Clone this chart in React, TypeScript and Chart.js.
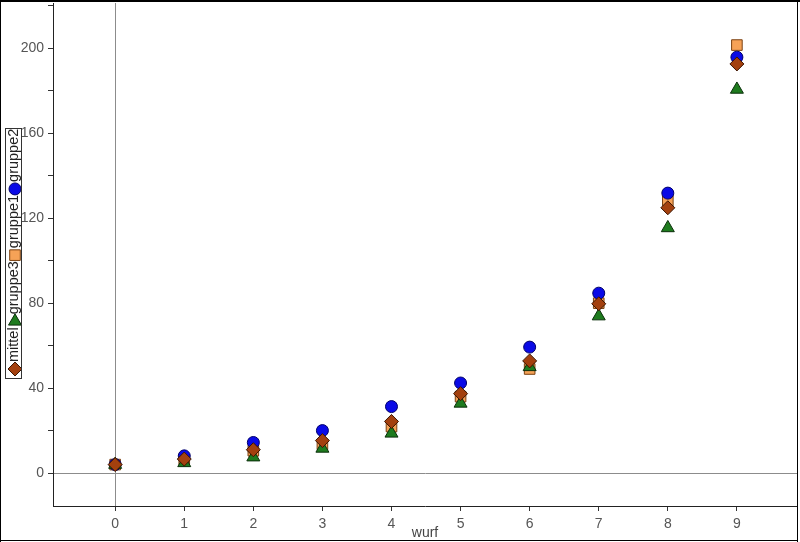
import React, { useEffect, useRef } from 'react';
import { Chart, registerables } from 'chart.js';

Chart.register(...registerables);

const wurf = [0, 1, 2, 3, 4, 5, 6, 7, 8, 9];
const gruppe2 = [4, 8.1, 14.4, 20, 31.3, 42.4, 59.3, 84.7, 131.8, 195.8];
const gruppe1 = [4, 6.4, 10.5, 13.5, 21.9, 36, 49, 80, 128.3, 201.5];
const gruppe3 = [4, 4.8, 7.5, 11.6, 18.7, 32.8, 50, 73.9, 115.4, 180.6];
const mittel = [4, 6.6, 11, 15.3, 24.3, 37.4, 52.8, 79.7, 124.9, 192.6];

const xTickValues = [0, 1, 2, 3, 4, 5, 6, 7, 8, 9];
const xTickLabels = ['0', '1', '2', '3', '4', '5', '6', '7', '8', '9'];
const yTickValues = [0, 20, 40, 60, 80, 100, 120, 140, 160, 180, 200, 220];
const yTickLabels = ['0', '', '40', '', '80', '', '120', '', '160', '', '200', ''];

const FONT = "'Liberation Sans', Arial, sans-serif";

type Series = {
  label: string;
  values: number[];
  style: 'circle' | 'rect' | 'triangle' | 'rectRot';
  radius: number;
  fill: string;
  stroke: string;
};

// legend order, bottom to top
const series: Series[] = [
  { label: 'mittel', values: mittel, style: 'rectRot', radius: 7, fill: '#a3400e', stroke: '#3a1400' },
  { label: 'gruppe3', values: gruppe3, style: 'triangle', radius: 7.5, fill: '#1e7b1e', stroke: '#0b2f0b' },
  { label: 'gruppe1', values: gruppe1, style: 'rect', radius: 7.5, fill: '#f6a257', stroke: '#7a4010' },
  { label: 'gruppe2', values: gruppe2, style: 'circle', radius: 6, fill: '#0a0ae6', stroke: '#00006a' },
];

// draw order: first in list ends up on top
const drawOrder = ['mittel', 'gruppe3', 'gruppe2', 'gruppe1'];

function drawMarker(ctx: CanvasRenderingContext2D, s: Series, x: number, y: number) {
  const r = s.radius;
  ctx.beginPath();
  if (s.style === 'circle') {
    ctx.arc(x, y, r, 0, Math.PI * 2);
  } else if (s.style === 'rect') {
    const h = r * Math.SQRT1_2;
    ctx.rect(x - h, y - h, 2 * h, 2 * h);
  } else if (s.style === 'triangle') {
    ctx.moveTo(x, y - r);
    ctx.lineTo(x + r * Math.sin((2 * Math.PI) / 3), y - r * Math.cos((2 * Math.PI) / 3));
    ctx.lineTo(x + r * Math.sin((4 * Math.PI) / 3), y - r * Math.cos((4 * Math.PI) / 3));
    ctx.closePath();
  } else {
    ctx.moveTo(x - r, y);
    ctx.lineTo(x, y - r);
    ctx.lineTo(x + r, y);
    ctx.lineTo(x, y + r);
    ctx.closePath();
  }
  ctx.fillStyle = s.fill;
  ctx.fill();
  ctx.lineWidth = 1;
  ctx.strokeStyle = s.stroke;
  ctx.stroke();
}

const framePlugin = {
  id: 'frameAndLegend',
  afterDraw(chart: any) {
    const ctx: CanvasRenderingContext2D = chart.ctx;
    ctx.save();
    // outer frame
    ctx.fillStyle = '#000';
    ctx.fillRect(0, 0, 800, 2);
    ctx.fillRect(0, 0, 1, 542);
    ctx.fillRect(797, 0, 1, 542);
    ctx.fillRect(0, 540, 798, 1);

    // vertical legend
    ctx.font = `14.5px ${FONT}`;
    const cx = 14;
    const bottom = 378;
    let markerY = bottom - 9;
    let top = bottom;
    for (let i = 0; i < series.length; i++) {
      const s = series[i];
      drawMarker(ctx, s, cx + 1, markerY);
      const start = markerY - 7;
      const w = ctx.measureText(s.label).width;
      ctx.save();
      ctx.translate(cx, start);
      ctx.rotate(-Math.PI / 2);
      ctx.fillStyle = '#222';
      ctx.textAlign = 'left';
      ctx.textBaseline = 'middle';
      ctx.fillText(s.label, 0, 0);
      ctx.restore();
      const end = start - w;
      top = end - 1;
      markerY = end - 6;
    }
    ctx.strokeStyle = '#333';
    ctx.lineWidth = 1;
    ctx.strokeRect(5.5, Math.round(top) + 0.5, 16, bottom - Math.round(top));
    ctx.restore();
  },
};

export default function App() {
  const ref = useRef<HTMLCanvasElement | null>(null);

  useEffect(() => {
    if (!ref.current) return;
    const ordered = drawOrder.map((n) => series.find((s) => s.label === n)!);
    const chart = new Chart(ref.current, {
      type: 'scatter',
      data: {
        datasets: ordered.map((s) => ({
          label: s.label,
          data: wurf.map((x, i) => ({ x, y: s.values[i] })),
          pointStyle: s.style,
          pointRadius: s.radius,
          pointHoverRadius: s.radius,
          backgroundColor: s.fill,
          borderColor: s.stroke,
          borderWidth: 1,
          showLine: false,
        })),
      },
      options: {
        responsive: false,
        animation: false,
        layout: { autoPadding: false, padding: { top: 3, right: 3, left: 0, bottom: 0 } },
        plugins: { legend: { display: false }, tooltip: { enabled: false } },
        scales: {
          x: {
            type: 'linear',
            min: -0.9,
            max: 9.87,
            afterBuildTicks: (s: any) => {
              s.ticks = xTickValues.map((v) => ({ value: v }));
            },
            afterFit: (s: any) => {
              s.height = 36;
              s.paddingLeft = 0;
              s.paddingRight = 0;
              s.paddingTop = 0;
              s.paddingBottom = 0;
            },
            grid: {
              color: (c: any) => (c.tick && c.tick.value === 0 ? '#8c8c8c' : 'rgba(0,0,0,0)'),
              tickColor: '#333',
              tickLength: 5,
              lineWidth: 1,
            },
            border: { color: '#222', width: 1 },
            ticks: {
              autoSkip: false,
              maxRotation: 0,
              padding: 5,
              color: '#555',
              font: { family: FONT, size: 14 },
              callback: (v: any) => xTickLabels[xTickValues.indexOf(Number(v))] ?? '',
            },
            title: {
              display: true,
              text: 'wurf',
              color: '#444',
              font: { family: FONT, size: 14 },
              padding: 0,
            },
          },
          y: {
            type: 'linear',
            min: -15.5,
            max: 221.3,
            afterBuildTicks: (s: any) => {
              s.ticks = yTickValues.map((v) => ({ value: v }));
            },
            afterFit: (s: any) => {
              s.width = 53;
              s.paddingLeft = 0;
              s.paddingRight = 0;
              s.paddingTop = 0;
              s.paddingBottom = 0;
            },
            grid: {
              color: (c: any) => (c.tick && c.tick.value === 0 ? '#8c8c8c' : 'rgba(0,0,0,0)'),
              tickColor: '#333',
              tickLength: 5,
              lineWidth: 1,
            },
            border: { color: '#222', width: 1 },
            ticks: {
              autoSkip: false,
              padding: 4,
              color: '#555',
              font: { family: FONT, size: 14 },
              callback: (v: any) => yTickLabels[yTickValues.indexOf(Number(v))] ?? '',
            },
          },
        },
      },
      plugins: [framePlugin],
    } as any);
    return () => chart.destroy();
  }, []);

  return (
    <div style={{ position: 'absolute', left: 0, top: 0, width: 800, height: 542, background: '#fff' }}>
      <canvas ref={ref} width={800} height={542} style={{ display: 'block', width: 800, height: 542 }} />
    </div>
  );
}
